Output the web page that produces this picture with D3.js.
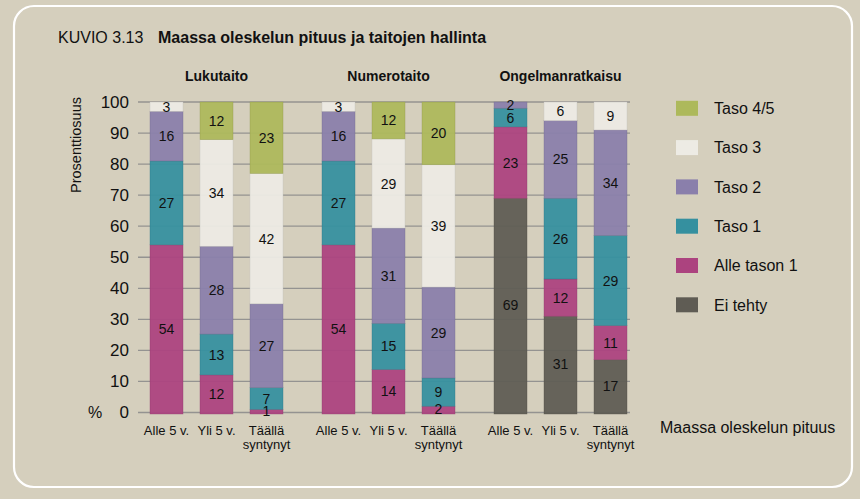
<!DOCTYPE html>
<html><head><meta charset="utf-8">
<script src="https://cdn.jsdelivr.net/npm/d3@7"></script>
<style>
html,body{margin:0;padding:0;background:#d5cfbd;}
svg{display:block;font-family:"Liberation Sans",Arial,sans-serif;}
</style></head>
<body><svg id="c" width="860" height="499"></svg>
<script>
const groups = ["Lukutaito", "Numerotaito", "Ongelmanratkaisu"];
const categories = ["Alle 5 v.", "Yli 5 v.", "Täällä syntynyt"];
const levels = ["Ei tehty", "Alle tason 1", "Taso 1", "Taso 2", "Taso 3", "Taso 4/5"];
const legendOrder = ["Taso 4/5", "Taso 3", "Taso 2", "Taso 1", "Alle tason 1", "Ei tehty"];
const colors = ["#5f5c54", "#ac437f", "#35909f", "#8a7fab", "#edebe4", "#adb95b"];
// values in order: Lukutaito (Alle, Yli, Täällä), Numerotaito (...), Ongelmanratkaisu (...)
const eiTehty    = [0, 0, 0,   0, 0, 0,   69, 31, 17];
const alleTason1 = [54, 12, 1, 54, 14, 2, 23, 12, 11];
const taso1      = [27, 13, 7, 27, 15, 9, 6, 26, 29];
const taso2      = [16, 28, 27, 16, 31, 29, 2, 25, 34];
const taso3      = [3, 34, 42, 3, 29, 39, 0, 6, 9];
const taso45     = [0, 12, 23, 0, 12, 20, 0, 0, 0];
const yTicks = [0, 10, 20, 30, 40, 50, 60, 70, 80, 90, 100];

const series = [eiTehty, alleTason1, taso1, taso2, taso3, taso45];
const rows = [];
groups.forEach((g, gi) => categories.forEach((c, ci) => {
  const r = {group: g, cat: c};
  levels.forEach((l, li) => r[l] = series[li][gi * 3 + ci]);
  rows.push(r);
}));

const svg = d3.select("#c");
svg.append("rect").attr("width", 860).attr("height", 499).attr("fill", "#d5cfbd");
svg.append("rect").attr("x", 14).attr("y", 6).attr("width", 838).attr("height", 481)
  .attr("rx", 20).attr("fill", "none").attr("stroke", "#ffffff").attr("stroke-width", 2.2);

// title
svg.append("text").attr("x", 58).attr("y", 43).attr("font-size", 16).attr("fill", "#111").text("KUVIO 3.13");
svg.append("text").attr("x", 158).attr("y", 43).attr("font-size", 16).attr("font-weight", "bold").attr("fill", "#111")
  .text("Maassa oleskelun pituus ja taitojen hallinta");

const y = d3.scaleLinear().domain([0, 100]).range([412.5, 102]);
const x0 = d3.scaleBand().domain(groups).range([130.5, 646.5]);
const x1 = d3.scaleBand().domain(categories).range([11, 161]).paddingInner(0.34).paddingOuter(0.17);

// gridlines
svg.append("g").selectAll("line").data(yTicks).join("line")
  .attr("x1", 138).attr("x2", 630).attr("y1", d => y(d)).attr("y2", d => y(d))
  .attr("stroke", "#949391").attr("stroke-width", 1.3);

// y axis labels
const ya = svg.append("g").attr("transform", "translate(129,0)")
  .call(d3.axisLeft(y).tickValues(yTicks).tickSize(0).tickPadding(0));
ya.select(".domain").remove();
ya.selectAll("text").attr("font-size", 17).attr("fill", "#111").attr("font-family", "Liberation Sans, Arial, sans-serif");
svg.append("text").attr("x", 88).attr("y", y(0)).attr("dy", "0.32em").attr("font-size", 16).attr("fill", "#111").text("%");
svg.append("text").attr("transform", "translate(81,145) rotate(-90)").attr("text-anchor", "middle")
  .attr("font-size", 14.5).attr("fill", "#111").text("Prosenttiosuus");

// stacks
const stack = d3.stack().keys(levels).offset(d3.stackOffsetExpand);
const stacked = stack(rows);
const barsG = svg.append("g");
stacked.forEach((s, si) => {
  s.forEach(d => {
    const v = d.data[levels[si]];
    if (!v) return;
    const bx = x0(d.data.group) + x1(d.data.cat);
    barsG.append("rect")
      .attr("x", bx).attr("width", x1.bandwidth())
      .attr("y", y(d[1] * 100)).attr("height", y(d[0] * 100) - y(d[1] * 100) + (d[0] === 0 ? 1.5 : 0))
      .attr("fill", colors[si]).attr("fill-opacity", 0.94)
      .attr("stroke", d3.color(colors[si]).darker(0.5)).attr("stroke-width", 0.6).attr("stroke-opacity", 0.6);
  });
});
stacked.forEach((s, si) => {
  s.forEach(d => {
    const v = d.data[levels[si]];
    if (!v) return;
    const bx = x0(d.data.group) + x1(d.data.cat) + x1.bandwidth() / 2;
    barsG.append("text").attr("x", bx).attr("y", y((d[0] + d[1]) / 2 * 100)).attr("dy", "0.36em")
      .attr("text-anchor", "middle").attr("font-size", 14).attr("fill", "#111").text(v);
  });
});

// group titles
svg.append("g").selectAll("text").data(groups).join("text")
  .attr("x", d => x0(d) + x0.bandwidth() / 2).attr("y", 81).attr("text-anchor", "middle")
  .attr("font-size", 14).attr("font-weight", "bold").attr("fill", "#111").text(d => d);

// category labels
groups.forEach(g => {
  categories.forEach(c => {
    const cx = x0(g) + x1(c) + x1.bandwidth() / 2;
    const t = svg.append("text").attr("x", cx).attr("y", 435)
      .attr("text-anchor", "middle").attr("font-size", 13).attr("fill", "#111");
    if (c === "Täällä syntynyt") {
      const parts = c.split(" ");
      t.append("tspan").attr("x", cx).text(parts[0]);
      t.append("tspan").attr("x", cx).attr("dy", 13.5).text(parts[1]);
    } else t.text(c);
  });
});

// legend
const lg = svg.append("g").selectAll("g").data(legendOrder).join("g")
  .attr("transform", (d, i) => `translate(676,${108.3 + i * 39.3})`);
lg.append("rect").attr("x", 0).attr("y", -7.5).attr("width", 22).attr("height", 15)
  .attr("fill", d => colors[levels.indexOf(d)]);
lg.append("text").attr("x", 38).attr("dy", "0.36em").attr("font-size", 16).attr("fill", "#111").text(d => d);

svg.append("text").attr("x", 660).attr("y", 433).attr("font-size", 16).attr("fill", "#111").text("Maassa oleskelun pituus");
</script></body></html>
